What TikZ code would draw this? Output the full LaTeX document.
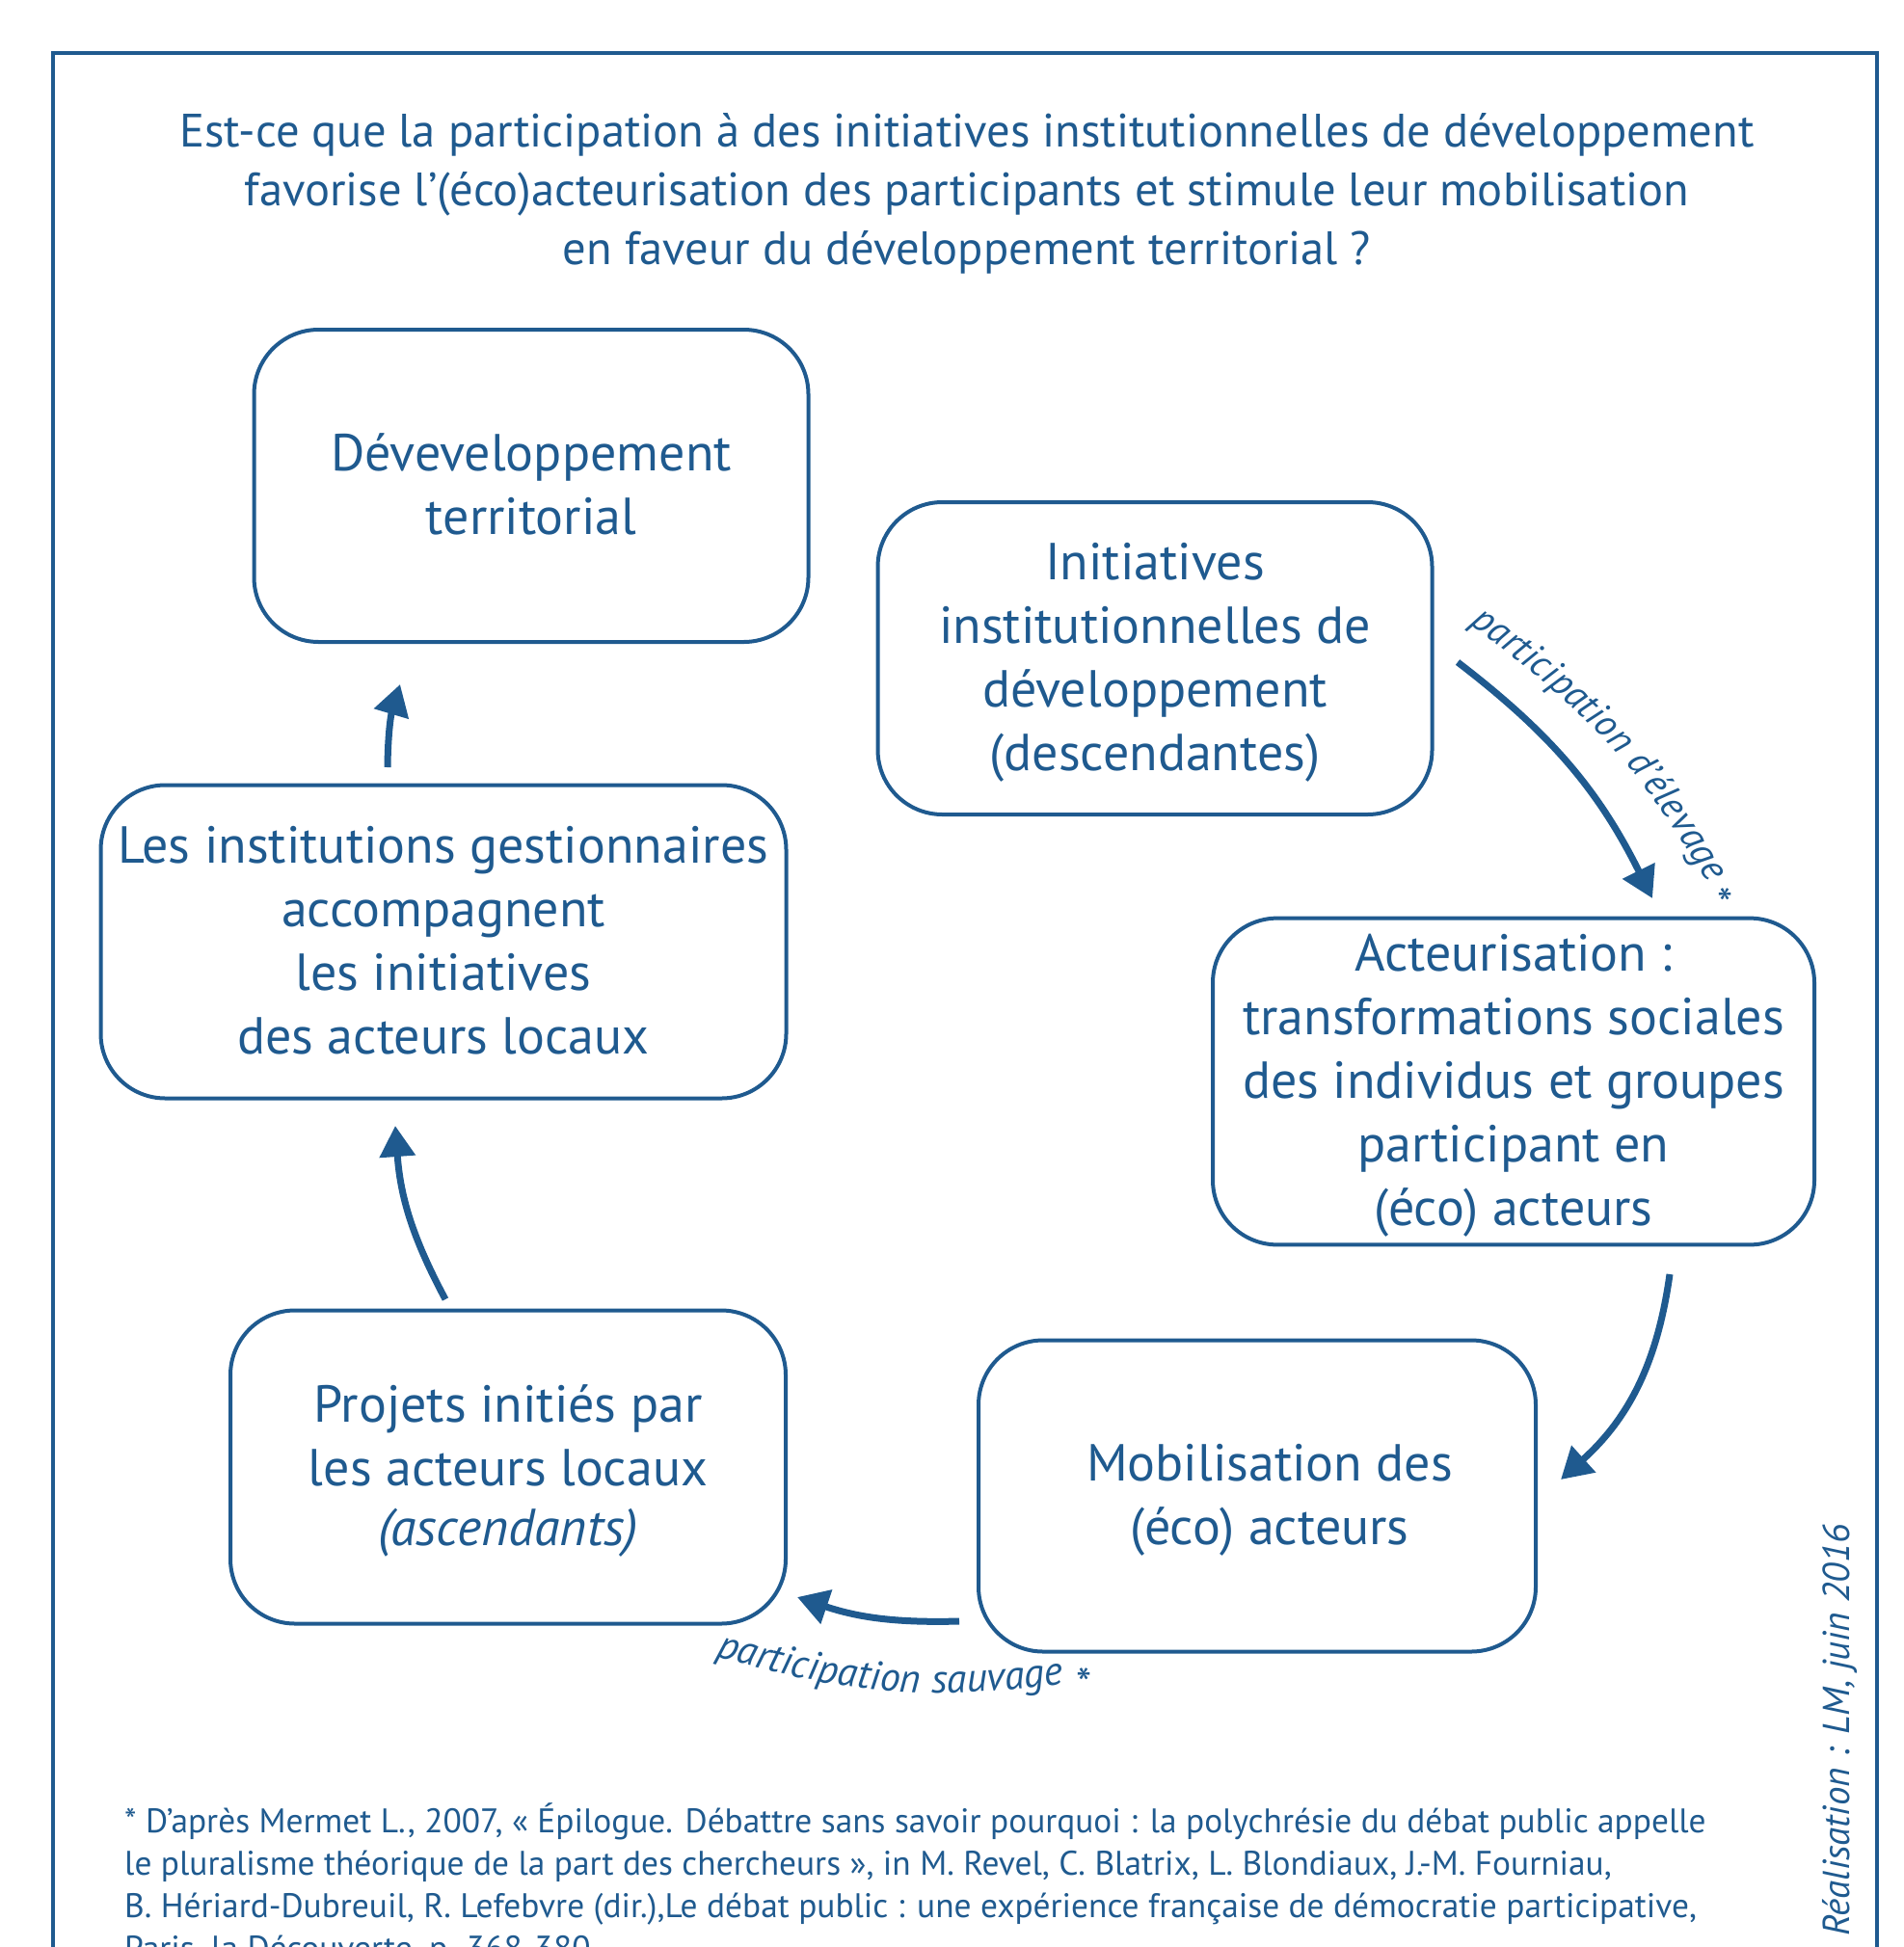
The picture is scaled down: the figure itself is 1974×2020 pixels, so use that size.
\documentclass[tikz,border=0pt]{standalone}
\usepackage{fontspec}
\setmainfont{PT Sans}
\usetikzlibrary{arrows.meta,decorations.text}
\definecolor{bleu}{HTML}{1F5A8F}
\newcommand\boxfont{\fontsize{54}{66}\selectfont}
\newcommand\titlefont{\fontsize{48.6}{61}\selectfont}
\newcommand\labfont{\fontsize{42}{42}\selectfont\itshape}
\newcommand\elevfont{\fontsize{40}{40}\selectfont\itshape}
\newcommand\notefont{\fontsize{35.4}{44}\selectfont}
\newcommand\topstrut{\rule{0pt}{55pt}}
\begin{document}
\begin{tikzpicture}[x=1pt,y=-1pt,
  box/.style={draw=bleu, line width=4pt, rounded corners=67pt, align=center,
    text=bleu, font=\boxfont, inner sep=0pt},
  flow/.style={draw=bleu, line width=7pt, -{Triangle[length=32pt,width=36pt]}},
  lab/.style={text=bleu, font=\fontsize{46}{46}\selectfont, inner sep=0pt},
]
\useasboundingbox (0,0) rectangle (1974,2020);
\draw[bleu, line width=4pt] (55,2100) -- (55,55) -- (1947,55) -- (1947,2100);

\node[text=bleu, font=\titlefont, align=center, inner sep=0pt] (title) at (1003,201)
  {Est-ce que la participation à des initiatives institutionnelles de développement\\
   favorise l’(éco)acteurisation des participants et stimule leur mobilisation\\
   en faveur du développement territorial ?};

\node[box, minimum width=575pt, minimum height=324pt] (dev) at (551,504)
  {\topstrut Déveveloppement\\territorial\strut};
\node[box, minimum width=575pt, minimum height=324pt] (init) at (1198,683)
  {\topstrut Initiatives\\institutionnelles de\\développement\\(descendantes)\strut};
\node[box, minimum width=711pt, minimum height=325pt] (inst) at (460,977)
  {\topstrut Les institutions gestionnaires\\accompagnent\\les initiatives\\des acteurs locaux\strut};
\node[box, minimum width=624pt, minimum height=333pt] (act) at (1570,1122)
  {\topstrut Acteurisation :\\transformations sociales\\des individus et groupes\\participant en\\(éco) acteurs\strut};
\node[box, minimum width=576pt, minimum height=325pt] (proj) at (527,1522)
  {\topstrut Projets initiés par\\les acteurs locaux\\[-4pt]\textit{(ascendants)}\strut};
\node[box, minimum width=578pt, minimum height=323pt] (mob) at (1304,1552)
  {\topstrut\hspace*{26pt}Mobilisation des\\\hspace*{26pt}(éco) acteurs\strut};

\coordinate (a1) at (402,796);  \coordinate (a2) at (415,710);
\coordinate (b1) at (462,1348); \coordinate (b2) at (410,1168);
\coordinate (c1) at (1512,687); \coordinate (c2) at (1714,932);
\coordinate (d1) at (1732,1322); \coordinate (d2) at (1619,1535);
\coordinate (e1) at (995,1682); \coordinate (e2) at (827,1657);

\draw[flow] (a1) to[bend left=8] (a2);
\draw[flow] (b1) to[bend left=12] (b2);
\draw[flow] (c1) to[bend left=13] (c2);
\draw[flow] (d1) to[bend left=20] (d2);
\draw[flow] (e1) to[bend left=10] (e2);

\path[decorate, decoration={text along path, text color=bleu,
   text={|\elevfont|participation d’élevage}}]
   (1524,648) to[bend left=13] (1790,950);
\node[lab] (st1) at (1790,938) {*};

\path[decorate, decoration={text along path, text color=bleu,
   text={|\labfont|participation sauvage}}]
   (742,1718) to[bend right=12] (1110,1746);
\node[lab] (st2) at (1125,1747) {*};

\node[text=bleu, font=\notefont, align=left, anchor=north west, inner sep=0pt] (note) at (129,1870)
  {* D’après Mermet L., 2007, «~Épilogue. Débattre sans savoir pourquoi : la polychrésie du débat public appelle\\
   le pluralisme théorique de la part des chercheurs~», in M. Revel, C. Blatrix, L. Blondiaux, J.-M. Fourniau,\\
   B. Hériard-Dubreuil, R. Lefebvre (dir.),Le débat public : une expérience française de démocratie participative,\\
   Paris, la Découverte, p. 368-380};

\node[text=bleu, font=\fontsize{39}{39}\selectfont\itshape, rotate=90, anchor=base, inner sep=0pt] (real) at (1918,1795)
  {Réalisation : LM, juin 2016};
\end{tikzpicture}
\end{document}
